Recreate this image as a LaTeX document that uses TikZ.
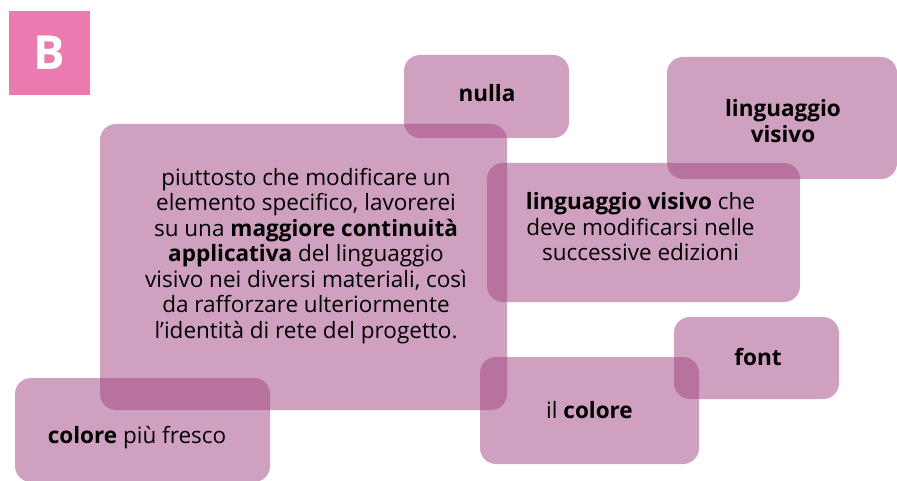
\documentclass[tikz,border=0pt]{standalone}
\usepackage{fontspec}
\setmainfont{Open Sans}
\definecolor{cardfill}{RGB}{163,72,132}
\definecolor{badgepink}{RGB}{234,122,176}
\tikzset{
  card/.style={rounded corners=16pt, fill=cardfill, fill opacity=0.52, draw=none, inner sep=0pt},
  cardtext/.style={align=center, text=black, inner sep=0pt, font=\fontsize{22.5}{25.5}\selectfont},
  badge/.style={fill=badgepink, inner sep=0pt, text=white, font=\fontsize{47}{47}\selectfont\bfseries},
}
\begin{document}
\begin{tikzpicture}[x=1pt,y=-1pt]
\useasboundingbox (0,0) rectangle (897,481);
% badge
\node[badge, minimum width=81pt, minimum height=84pt] (badgeB) at (49.5,53) {B};
% cards
\node[card, minimum width=407pt, minimum height=286pt] (main) at (303.5,267) {};
\node[card, minimum width=165pt, minimum height=83pt] (nulla) at (486.5,96.5) {};
\node[card, minimum width=230pt, minimum height=122pt] (lingTop) at (782,118) {};
\node[card, minimum width=313pt, minimum height=139pt] (lingMid) at (643.5,232.5) {};
\node[card, minimum width=219pt, minimum height=107pt] (colore) at (589.5,410.5) {};
\node[card, minimum width=165pt, minimum height=82pt] (font) at (756.5,358) {};
\node[card, minimum width=255pt, minimum height=104pt] (fresco) at (142.5,430) {};
% texts
\node[cardtext] (mainT) at ([shift={(2.5,-11)}]main.center)
  {piuttosto che modificare un\\ elemento specifico, lavorerei\\ su una \textbf{maggiore continuità}\\ \textbf{applicativa} del linguaggio\\ visivo nei diversi materiali, così\\ da rafforzare ulteriormente\\ l’identità di rete del progetto.};
\node[cardtext] (nullaT) at ([shift={(0.5,-3.5)}]nulla.center) {\textbf{nulla}};
\node[cardtext] (lingTopT) at ([shift={(1,3)}]lingTop.center) {\textbf{linguaggio}\\ \textbf{visivo}};
\node[cardtext] (lingMidT) at ([shift={(-3,-5.5)}]lingMid.center) {\textbf{linguaggio visivo} che\\ deve modificarsi nelle\\ successive edizioni};
\node[cardtext] (coloreT) at (colore.center) {il \textbf{colore}};
\node[cardtext] (fontT) at ([shift={(1.5,-1)}]font.center) {\textbf{font}};
\node[cardtext] (frescoT) at ([shift={(-5.5,8)}]fresco.center) {\textbf{colore} più fresco};
\end{tikzpicture}
\end{document}
